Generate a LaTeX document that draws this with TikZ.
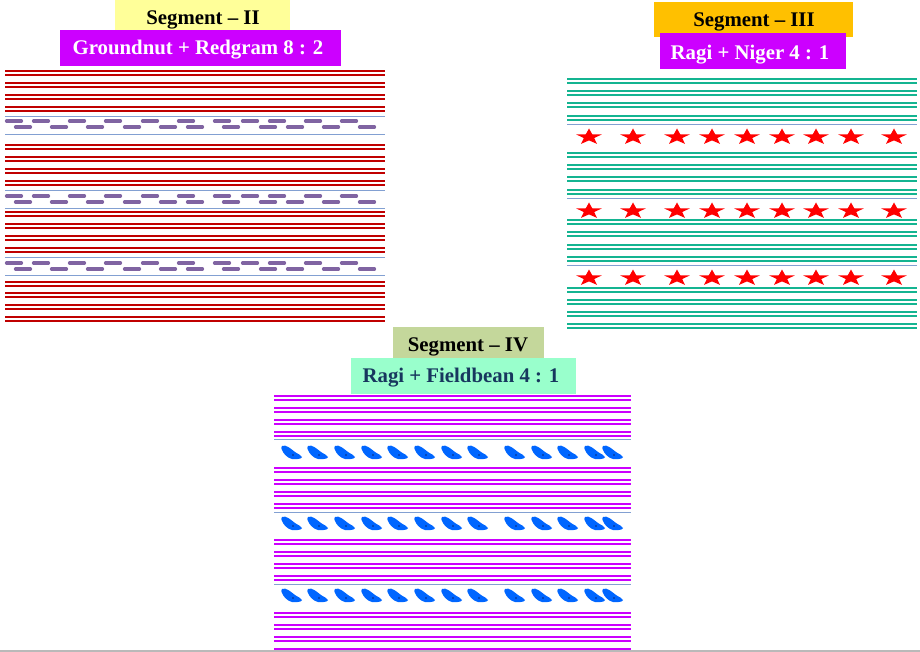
\documentclass[tikz,border=0pt]{standalone}
\usepackage{fontspec}
\setmainfont{Liberation Serif}
\usetikzlibrary{shapes.geometric}

% palette
\definecolor{rowred}{RGB}{192,0,0}
\definecolor{rowteal}{RGB}{20,180,145}
\definecolor{rowmag}{RGB}{204,0,255}
\definecolor{guideblue}{RGB}{130,160,210}
\definecolor{dashpurple}{RGB}{128,100,162}
\definecolor{beanblue}{RGB}{0,102,255}
\definecolor{beancore}{RGB}{10,40,120}
\definecolor{labpurple}{RGB}{204,0,255}
\definecolor{labyellow}{RGB}{255,255,153}
\definecolor{laborange}{RGB}{255,192,0}
\definecolor{labolive}{RGB}{196,215,155}
\definecolor{labmint}{RGB}{153,255,204}
\definecolor{labnavy}{RGB}{23,55,94}

\tikzset{
  croprow/.style={line width=1.5pt},
  guide/.style={guideblue, line width=0.9pt},
  rgdash/.style={dashpurple, line width=3.2pt, line cap=round},
  labbox/.style={inner sep=0pt, outer sep=0pt, anchor=north west},
  labtext/.style={inner sep=0pt, anchor=base,
    font=\bfseries\fontsize{20.8}{24}\selectfont},
  nigerstar/.style={star, star points=5, star point ratio=2.5, fill=red,
    draw=none, minimum size=17pt, inner sep=0pt, outer sep=0pt, transform shape},
  bean/.pic={
    \fill[beanblue] (-10,-6) .. controls (-6,-8) and (-1,-3) .. (3,0)
      .. controls (6,2) and (9,3) .. (10,5)
      .. controls (10,7) and (4,7.5) .. (0,7)
      .. controls (-5,6) and (-9,1) .. (-10,-2)
      .. controls (-11,-4) .. cycle;
    \fill[beancore] (1,3) circle (0.9);
  }
}

\begin{document}
\begin{tikzpicture}[x=1pt,y=-1pt]
\useasboundingbox (0,0) rectangle (920,652);
\fill[white] (0,0) rectangle (920,652);

% ---------------- Segment II : groundnut + redgram ----------------
\foreach \y in {71,83,95,107,145,157,169,181,212,224,236,248,282,293,305,317}
  \draw[croprow, rowred] (5,\y) -- (385,\y) (5,\y+4) -- (385,\y+4);
\foreach \y in {116,134,190,208,257,275}
  \draw[guide] (5,\y) -- (385,\y);
\foreach \r/\s in {121/127,196/202,263/269}{
  \foreach \a in {5,32,68,104,141,177,213,241,268,304,340}
    \draw[rgdash] (\a+1.5,\r) -- ++(15,0);
  \foreach \a in {14,50,86,123,159,186,222,259,286,322,358}
    \draw[rgdash] (\a+1.5,\s) -- ++(15,0);
}
\node[labbox, fill=labyellow, minimum width=175pt, minimum height=30pt] (seg2box) at (115,0) {};
\node[labbox, fill=labpurple, minimum width=281pt, minimum height=36pt] (mix2box) at (60,30) {};
\node[labtext] (seg2title) at (203,24.5) {Segment -- II};
\node[labtext, white] (mix2title) at (198,55) {Groundnut + Redgram 8 : 2};

% ---------------- Segment III : ragi + niger ----------------
\foreach \y in {79,91,103,116,153,165,177,190,220,232,245,257,288,300,312,324}
  \draw[croprow, rowteal] (567,\y) -- (917,\y) (567,\y+4) -- (917,\y+4);
\foreach \y in {124,198,265}
  \draw[guide] (567,\y) -- (917,\y);
\foreach \y [count=\j] in {137,211,278}
  \foreach \x [count=\i] in {589,633,677,712,747,782,816,851,894}{
    \begin{scope}[shift={(\x,\y)}, xscale=1.6]
      \node[nigerstar] (star-\j-\i) at (0,0) {};
    \end{scope}
  }
\node[labbox, fill=laborange, minimum width=199pt, minimum height=35pt] (seg3box) at (654,2) {};
\node[labbox, fill=labpurple, minimum width=186pt, minimum height=36pt] (mix3box) at (660,33) {};
\node[labtext] (seg3title) at (754,26.5) {Segment -- III};
\node[labtext, white] (mix3title) at (750,59.5) {Ragi + Niger 4 : 1};

% ---------------- Segment IV : ragi + fieldbean ----------------
\foreach \y in {396,408,420,432,468,480,492,504,540,552,564,576,613,625,637,649}
  \draw[croprow, rowmag] (274,\y) -- (631,\y) (274,\y+4) -- (631,\y+4);
\foreach \y in {439,512,584}
  \draw[guide] (274,\y) -- (631,\y);
\foreach \y in {452,523,595}
  \foreach \x in {292,318,345,372,398,425,452,478,515,542,568,595,613}
    \pic at (\x,\y) {bean};
\node[labbox, fill=labolive, minimum width=151pt, minimum height=31pt] (seg4box) at (393,327) {};
\node[labbox, fill=labmint, minimum width=225pt, minimum height=36pt] (mix4box) at (351,358) {};
\node[labtext] (seg4title) at (468,351.5) {Segment -- IV};
\node[labtext, labnavy] (mix4title) at (461,382.5) {Ragi + Fieldbean 4 : 1};

% page edge rule
\draw[gray!55, line width=1.5pt] (0,651) -- (920,651);
\end{tikzpicture}
\end{document}
